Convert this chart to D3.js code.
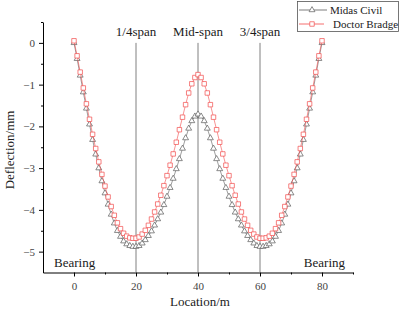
<!DOCTYPE html>
<html>
<head>
<meta charset="utf-8">
<script src="https://cdn.jsdelivr.net/npm/d3@7"></script>
<style>
    html, body { margin: 0; padding: 0; background: #fff; }
    svg { display: block; font-family: 'Liberation Serif', 'Times New Roman', serif; }
    svg text { fill: #1a1a1a; }
</style>
</head>
<body>
<div id="chart"></div>
<script>
// Node locations along the bridge (m)
const locations = [
    0, 1, 2, 3, 4, 5, 6, 7, 8, 9, 10, 11, 12, 13, 14, 15, 16, 17, 18, 19, 20,
    21, 22, 23, 24, 25, 26, 27, 28, 29, 30, 31, 32, 33, 34, 35, 36, 37, 38, 39, 40,
    41, 42, 43, 44, 45, 46, 47, 48, 49, 50, 51, 52, 53, 54, 55, 56, 57, 58, 59, 60,
    61, 62, 63, 64, 65, 66, 67, 68, 69, 70, 71, 72, 73, 74, 75, 76, 77, 78, 79, 80
];

// Deflection (mm), Midas Civil
const midasCivil = [
    0.00, -0.38, -0.78, -1.18, -1.57, -1.95, -2.32, -2.67, -3.00, -3.31, -3.60,
    -3.87, -4.11, -4.32, -4.50, -4.64, -4.75, -4.82, -4.86, -4.88, -4.88,
    -4.86, -4.80, -4.72, -4.62, -4.51, -4.37, -4.22, -4.06, -3.88, -3.68,
    -3.47, -3.25, -3.02, -2.78, -2.53, -2.28, -2.05, -1.87, -1.76, -1.71,
    -1.76, -1.87, -2.05, -2.28, -2.53, -2.78, -3.02, -3.25, -3.47, -3.68,
    -3.88, -4.06, -4.22, -4.37, -4.51, -4.62, -4.72, -4.80, -4.86, -4.88,
    -4.88, -4.86, -4.82, -4.75, -4.64, -4.50, -4.32, -4.11, -3.87, -3.60,
    -3.31, -3.00, -2.67, -2.32, -1.95, -1.57, -1.18, -0.78, -0.38, 0.00
];

// Deflection (mm), Doctor Bradge
const doctorBradge = [
    0.05, -0.31, -0.70, -1.08, -1.46, -1.83, -2.19, -2.53, -2.85, -3.15, -3.43,
    -3.69, -3.92, -4.13, -4.31, -4.45, -4.56, -4.63, -4.67, -4.68, -4.68,
    -4.65, -4.58, -4.49, -4.37, -4.22, -4.05, -3.86, -3.65, -3.42, -3.18,
    -2.93, -2.66, -2.38, -2.08, -1.78, -1.48, -1.20, -0.98, -0.83, -0.76,
    -0.83, -0.98, -1.20, -1.48, -1.78, -2.08, -2.38, -2.66, -2.93, -3.18,
    -3.42, -3.65, -3.86, -4.05, -4.22, -4.37, -4.49, -4.58, -4.65, -4.68,
    -4.68, -4.67, -4.63, -4.56, -4.45, -4.31, -4.13, -3.92, -3.69, -3.43,
    -3.15, -2.85, -2.53, -2.19, -1.83, -1.46, -1.08, -0.70, -0.31, 0.05
];

const xTicks = [0, 20, 40, 60, 80];
const xMinorTicks = [10, 30, 50, 70, 90];
const yTicks = [0, -1, -2, -3, -4, -5];
const yMinorTicks = [0.5, -0.5, -1.5, -2.5, -3.5, -4.5];

// Marked sections (vertical guide lines)
const sectionLocs = [20, 40, 60];
const sectionNames = ['1/4span', 'Mid-span', '3/4span'];

const seriesNames = ['Midas Civil', 'Doctor Bradge'];

const W = 401, H = 310;
const plot = { left: 43, right: 353, top: 22, bottom: 272.5 };
const RED = '#f24a4a';
const GREY = '#5a5a5a';

const svg = d3.select('#chart').append('svg')
    .attr('width', W)
    .attr('height', H);

const x = d3.scaleLinear().domain([-10, 90]).range([plot.left, plot.right]);
const y = d3.scaleLinear().domain([-5.5, 0.5]).range([plot.bottom, plot.top]);

const fmt = d => (d < 0 ? '\u2212' + Math.abs(d) : String(d));

// Axes
svg.append('g').attr('transform', `translate(0,${plot.bottom})`)
    .call(d3.axisBottom(x).tickValues(xTicks).tickSize(4).tickSizeOuter(0).tickPadding(6).tickFormat(fmt));
svg.append('g').attr('transform', `translate(0,${plot.bottom})`)
    .call(d3.axisBottom(x).tickValues(xMinorTicks).tickSize(2).tickSizeOuter(0).tickFormat(''))
    .select('.domain').remove();

svg.append('g').attr('transform', `translate(${plot.left},0)`)
    .call(d3.axisLeft(y).tickValues(yTicks).tickSize(4).tickSizeOuter(0).tickPadding(4).tickFormat(fmt));
svg.append('g').attr('transform', `translate(${plot.left},0)`)
    .call(d3.axisLeft(y).tickValues(yMinorTicks).tickSize(2).tickSizeOuter(0).tickFormat(''))
    .select('.domain').remove();

svg.selectAll('.tick text')
    .style('font-family', "'Liberation Serif', serif")
    .style('font-size', '11px')
    .style('fill', '#444');
svg.selectAll('.domain, .tick line').attr('stroke', '#000').attr('stroke-width', 1);

// Section lines + labels
svg.append('g').selectAll('line').data(sectionLocs).join('line')
    .attr('x1', d => x(d)).attr('x2', d => x(d))
    .attr('y1', y(0)).attr('y2', plot.bottom)
    .attr('stroke', '#808080')
    .attr('stroke-width', 1);

svg.append('g').selectAll('text').data(sectionLocs).join('text')
    .attr('x', d => x(d))
    .attr('y', 36)
    .attr('text-anchor', 'middle')
    .style('font-size', '13px')
    .text((d, i) => sectionNames[i]);

// Bearing labels
svg.append('text').attr('x', 54).attr('y', 267).style('font-size', '13px').text('Bearing');
svg.append('text').attr('x', 345).attr('y', 267).attr('text-anchor', 'end').style('font-size', '13px').text('Bearing');

// Series
const line = d3.line().x(d => x(d[0])).y(d => y(d[1]));
const triangle = d3.symbol().type(d3.symbolTriangle).size(15);
const square = d3.symbol().type(d3.symbolSquare).size(20);

const series = [
    { name: seriesNames[0], values: midasCivil, color: GREY, symbol: triangle },
    { name: seriesNames[1], values: doctorBradge, color: RED, symbol: square }
];

series.forEach(s => {
    const pts = locations.map((loc, i) => [loc, s.values[i]]);
    const g = svg.append('g');
    g.append('path')
        .datum(pts)
        .attr('d', line)
        .attr('fill', 'none')
        .attr('stroke', s.color)
        .attr('stroke-width', 0.6);
    g.selectAll('path.mk').data(pts).join('path')
        .attr('class', 'mk')
        .attr('transform', d => `translate(${x(d[0])},${y(d[1])})`)
        .attr('d', s.symbol())
        .attr('fill', '#fff')
        .attr('stroke', s.color)
        .attr('stroke-width', 0.7);
});

// Axis titles
svg.append('text')
    .attr('x', (plot.left + plot.right) / 2 + 2)
    .attr('y', 306)
    .attr('text-anchor', 'middle')
    .style('font-size', '13px')
    .text('Location/m');

svg.append('text')
    .attr('transform', `translate(13.5,${150}) rotate(-90)`)
    .attr('text-anchor', 'middle')
    .style('font-size', '13px')
    .text('Deflection/mm');

// Legend
const legend = svg.append('g');
legend.append('rect')
    .attr('x', 297.5).attr('y', 1.5)
    .attr('width', 101).attr('height', 30)
    .attr('fill', '#fff')
    .attr('stroke', '#555')
    .attr('stroke-width', 0.8);

const legendRows = [
    { y: 10, x1: 299, x2: 327, tx: 330 },
    { y: 24, x1: 299, x2: 324, tx: 333 }
];
series.forEach((s, i) => {
    const r = legendRows[i];
    legend.append('line')
        .attr('x1', r.x1).attr('x2', r.x2)
        .attr('y1', r.y).attr('y2', r.y)
        .attr('stroke', s.color).attr('stroke-width', 0.8);
    legend.append('path')
        .attr('transform', `translate(312,${r.y})`)
        .attr('d', s.symbol())
        .attr('fill', '#fff')
        .attr('stroke', s.color)
        .attr('stroke-width', 0.7);
    legend.append('text')
        .attr('x', r.tx).attr('y', r.y + 4)
        .style('font-size', '11px')
        .text(s.name);
});
</script>
</body>
</html>
